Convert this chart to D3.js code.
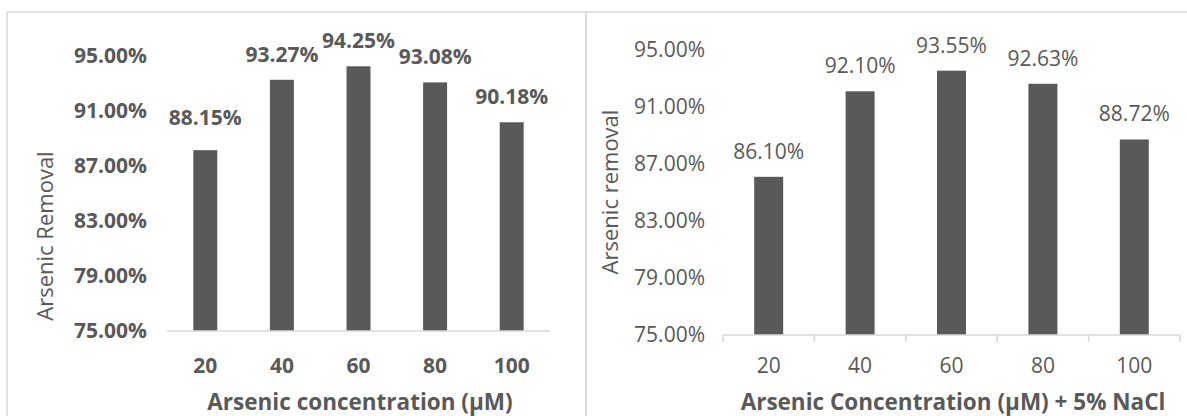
<!DOCTYPE html>
<html>
<head>
<meta charset="utf-8">
<script src="https://cdn.jsdelivr.net/npm/d3@7"></script>
<style>
  html, body { margin: 0; padding: 0; background: #fff; }
  svg { display: block; font-family: "Open Sans", sans-serif; }
</style>
</head>
<body>
<svg id="chart" width="1187" height="416"></svg>
<script>
// Arsenic removal at each starting concentration (μM)
const concentrations = ["20", "40", "60", "80", "100"];
const removalPlain = [88.15, 93.27, 94.25, 93.08, 90.18];
const removalNaCl = [86.10, 92.10, 93.55, 92.63, 88.72];
const yTicks = [75, 79, 83, 87, 91, 95];

const ink = "#595959";
const gridGrey = "#d9d9d9";
const svg = d3.select("#chart");

// Panel frames
svg.append("rect").attr("x", 7).attr("y", 12).attr("width", 579).attr("height", 420)
  .attr("fill", "none").attr("stroke", gridGrey).attr("stroke-width", 1.5);
svg.append("rect").attr("x", 586).attr("y", 12).attr("width", 620).attr("height", 420)
  .attr("fill", "none").attr("stroke", gridGrey).attr("stroke-width", 1.5);

function drawPanel(cfg) {
  const g = svg.append("g");
  const x = d3.scaleBand().domain(concentrations)
    .range([cfg.left, cfg.right]).paddingInner(cfg.pad).paddingOuter(cfg.pad / 2);
  const y = d3.scaleLinear().domain([75, 95]).range([cfg.bottom, cfg.top]);
  const weight = cfg.bold ? "bold" : "normal";

  // y axis labels
  const yAxis = d3.axisLeft(y).tickValues(yTicks).tickSize(0).tickPadding(0)
    .tickFormat(d => d.toFixed(2) + "%");
  const ya = g.append("g").attr("transform", `translate(${cfg.yLabelRight},0)`).call(yAxis);
  ya.select(".domain").remove();
  ya.selectAll("text").attr("fill", ink).attr("font-size", 21).attr("font-weight", weight)
    .attr("font-family", "Open Sans");

  // bars
  g.selectAll("rect.bar").data(cfg.values).join("rect").attr("class", "bar")
    .attr("x", (d, i) => x(concentrations[i]))
    .attr("width", x.bandwidth())
    .attr("y", d => y(d))
    .attr("height", d => y(75) - y(d))
    .attr("fill", ink);

  // x axis
  const xAxis = d3.axisBottom(x).tickSize(0).tickPadding(0);
  const xa = g.append("g").attr("transform", `translate(0,${cfg.bottom})`).call(xAxis);
  xa.select(".domain").attr("stroke", gridGrey).attr("stroke-width", 1.5)
    .attr("d", `M${cfg.left},0H${cfg.right}`);
  xa.selectAll("text").attr("fill", ink).attr("font-size", 21).attr("font-weight", weight)
    .attr("font-family", "Open Sans").attr("dy", null)
    .attr("y", cfg.catBaseline - cfg.bottom);

  if (cfg.boundaryTicks) {
    const edges = concentrations.map(c => x(c) - (x.step() - x.bandwidth()) / 2);
    edges.push(cfg.right);
    xa.selectAll("line.edge").data(edges).join("line").attr("class", "edge")
      .attr("x1", d => d).attr("x2", d => d).attr("y1", 0).attr("y2", 7)
      .attr("stroke", gridGrey).attr("stroke-width", 1.5);
  }

  // value labels (the first label of the left panel sits a little higher)
  g.selectAll("text.val").data(cfg.values).join("text").attr("class", "val")
    .attr("x", (d, i) => x(concentrations[i]) + x.bandwidth() / 2)
    .attr("y", (d, i) => y(d) - 18 - (i === 0 ? cfg.firstLift : 0))
    .attr("text-anchor", "middle").attr("fill", ink)
    .attr("font-size", 21).attr("font-weight", weight)
    .text(d => d.toFixed(2) + "%");

  // axis titles
  g.append("text").attr("x", cfg.xTitleX).attr("y", 410)
    .attr("text-anchor", "middle").attr("fill", ink)
    .attr("font-size", 22.5).attr("font-weight", "bold")
    .text(cfg.xTitle);
  g.append("text")
    .attr("transform", `translate(${cfg.yTitleX},${cfg.yTitleY}) rotate(-90)`)
    .attr("text-anchor", "middle").attr("dominant-baseline", "central")
    .attr("fill", ink).attr("font-size", 22)
    .text(cfg.yTitle);
}

drawPanel({
  values: removalPlain, left: 167, right: 550, top: 56, bottom: 331, pad: 0.687,
  bold: true, yLabelRight: 147, catBaseline: 373, boundaryTicks: false, firstLift: 7,
  xTitle: "Arsenic concentration (μM)", xTitleX: 360,
  yTitle: "Arsenic Removal", yTitleX: 44, yTitleY: 236
});

drawPanel({
  values: removalNaCl, left: 723, right: 1180, top: 50, bottom: 335, pad: 0.683,
  bold: false, yLabelRight: 705, catBaseline: 373, boundaryTicks: true, firstLift: 0,
  xTitle: "Arsenic Concentration (μM) + 5% NaCl", xTitleX: 953,
  yTitle: "Arsenic removal", yTitleX: 609, yTitleY: 192
});
</script>
</body>
</html>
